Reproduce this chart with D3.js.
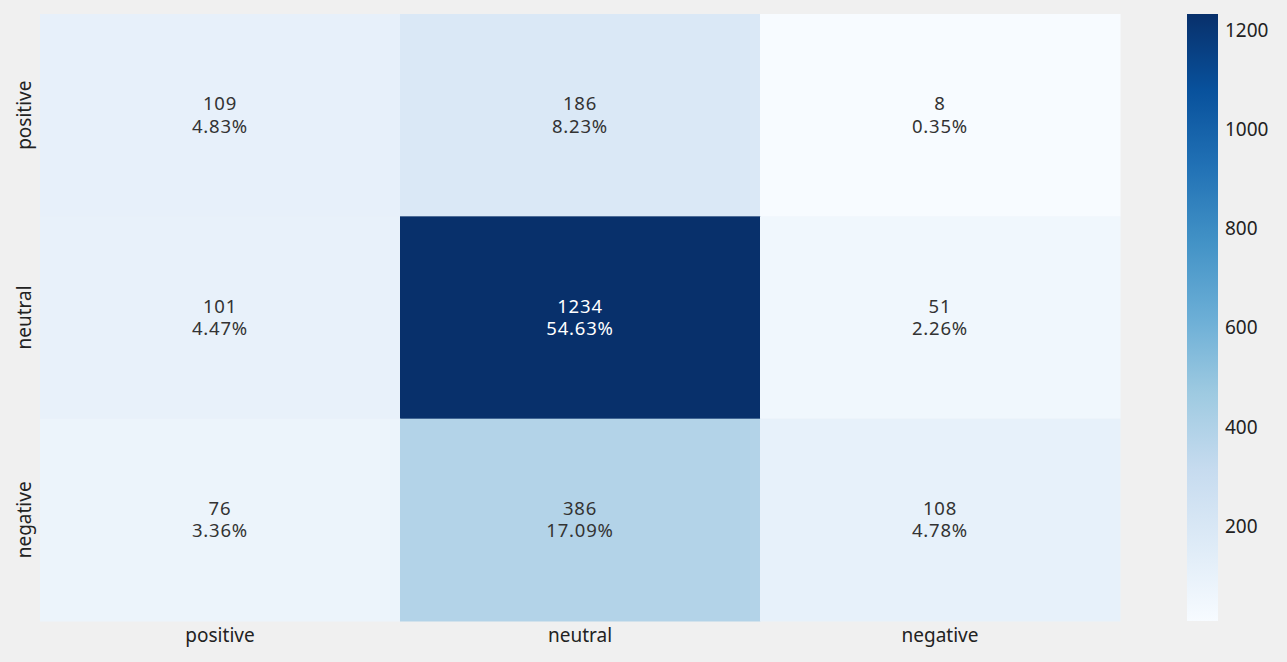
<!DOCTYPE html>
<html><head><meta charset="utf-8">
<script src="https://cdn.jsdelivr.net/npm/d3@7"></script>
<style>body{margin:0;background:#f0f0f0;}svg{display:block;}</style>
</head><body><svg id="c" width="1287" height="662"></svg>
<script>
const rowLabels = ["positive","neutral","negative"];
const colLabels = ["positive","neutral","negative"];
const counts = [
  [109, 186, 8],
  [101, 1234, 51],
  [76, 386, 108]
];
const percents = ["4.83%","8.23%","0.35%","4.47%","54.63%","2.26%","3.36%","17.09%","4.78%"];
const cbarTicks = [200,400,600,800,1000,1200];
const bluesStops = ["#f7fbff","#deebf7","#c6dbef","#9ecae1","#6baed6","#4292c6","#2171b5","#08519c","#08306b"];
const FONT = "'Noto Sans','Open Sans',sans-serif";

const svg = d3.select("#c").attr("font-family",FONT);
svg.append("rect").attr("width",1287).attr("height",662).attr("fill","#f0f0f0");
const L=40,R=1120,T=14,B=621;
const x = d3.scaleBand().domain(colLabels.map((d,i)=>i)).range([L,R]);
const y = d3.scaleBand().domain(rowLabels.map((d,i)=>i)).range([T,B]);
const flat = counts.flat();
const vmin = d3.min(flat), vmax = d3.max(flat);
const t = d3.scaleLinear().domain([vmin,vmax]).range([0,1]);
const cs = d3.scaleLinear().domain(bluesStops.map((d,i)=>i/(bluesStops.length-1))).range(bluesStops).interpolate(d3.interpolateRgb);
const color = v => cs(t(v));

const cells = [];
counts.forEach((row,i)=>row.forEach((v,j)=>cells.push({i,j,v,p:percents[i*3+j]})));
const g = svg.append("g");
g.selectAll("rect").data(cells).join("rect")
  .attr("x",d=>x(d.j)).attr("y",d=>y(d.i))
  .attr("width",x.bandwidth()+0.5).attr("height",y.bandwidth()+0.5)
  .attr("fill",d=>color(d.v));
const lum = c => { const r=d3.rgb(c); const f=v=>{v/=255;return v<=0.03928?v/12.92:Math.pow((v+0.055)/1.055,2.4);}; return 0.2126*f(r.r)+0.7152*f(r.g)+0.0722*f(r.b); };
const tc = d => lum(color(d.v))>0.408?"#333333":"#ffffff";
g.selectAll("text.v").data(cells).join("text").attr("class","v")
  .attr("text-anchor","middle").attr("font-size",18.5).attr("letter-spacing",0.8).attr("fill",tc)
  .attr("x",d=>x(d.j)+x.bandwidth()/2).attr("y",d=>y(d.i)+y.bandwidth()/2-5).text(d=>d.v);
g.selectAll("text.p").data(cells).join("text").attr("class","p")
  .attr("text-anchor","middle").attr("font-size",18.5).attr("letter-spacing",0.8).attr("fill",tc)
  .attr("x",d=>x(d.j)+x.bandwidth()/2).attr("y",d=>y(d.i)+y.bandwidth()/2+17.5).text(d=>d.p);

// x axis
const xa = svg.append("g").attr("transform",`translate(0,${B})`).call(d3.axisBottom(x).tickSize(0).tickPadding(8).tickFormat(i=>colLabels[i]));
xa.attr("font-family",FONT);
xa.select(".domain").remove();
xa.selectAll("text").attr("font-size",19).attr("fill","#222");
// y axis
const ya = svg.append("g").attr("font-family",FONT);
ya.selectAll("text").data(rowLabels).join("text")
  .attr("font-size",19).attr("fill","#222").attr("text-anchor","middle")
  .attr("transform",(d,i)=>`translate(24,${y(i)+y.bandwidth()/2}) rotate(-90)`)
  .attr("dy","0.35em").text(d=>d);

// colorbar
const cbx=1187, cbw=31;
const cy = d3.scaleLinear().domain([vmin,vmax]).range([B,T]);
const defs = svg.append("defs");
const grad = defs.append("linearGradient").attr("id","cb").attr("x1",0).attr("y1",1).attr("x2",0).attr("y2",0);
bluesStops.forEach((c,i)=>grad.append("stop").attr("offset",i/(bluesStops.length-1)).attr("stop-color",c));
svg.append("rect").attr("x",cbx).attr("y",T).attr("width",cbw).attr("height",B-T).attr("fill","url(#cb)");
const ca = svg.append("g").attr("transform",`translate(${cbx+cbw},0)`).call(d3.axisRight(cy).tickValues(cbarTicks).tickFormat(d3.format("d")).tickSize(0).tickPadding(7));
ca.attr("font-family",FONT);
ca.select(".domain").remove();
ca.selectAll("text").attr("font-size",19).attr("fill","#222");
</script></body></html>
